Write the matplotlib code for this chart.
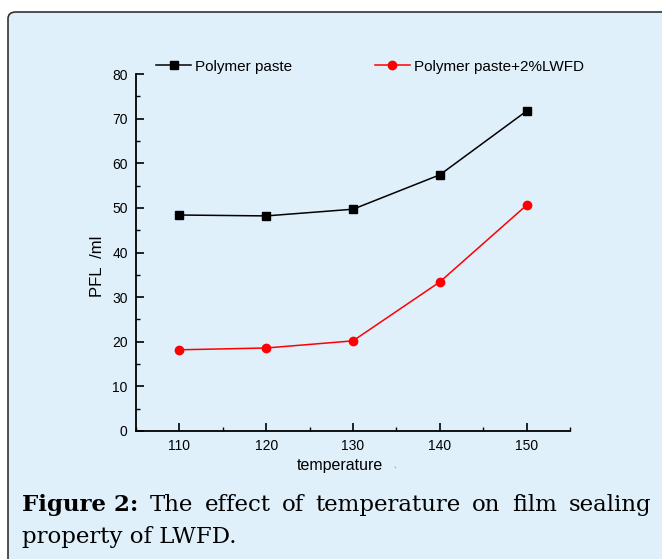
import matplotlib.pyplot as plt
from matplotlib.patches import FancyBboxPatch
from matplotlib.ticker import MultipleLocator

temperature = [110, 120, 130, 140, 150]
polymer_paste = [48.4, 48.2, 49.7, 57.4, 71.7]
polymer_lwfd = [18.2, 18.6, 20.2, 33.4, 50.6]

bg = '#dff0fb'
W, H = 662, 559

fig = plt.figure(figsize=(W / 100, H / 100), dpi=100)
fig.patch.set_facecolor('white')

# rounded frame around the figure area
frame = FancyBboxPatch((8 / W, -0.2), 1.2, 1 - 12 / H + 0.2,
                       boxstyle='round,pad=0,rounding_size=0.012',
                       transform=fig.transFigure, facecolor=bg,
                       edgecolor='#333333', linewidth=1.2, zorder=-10)
fig.patches.append(frame)

ax = fig.add_axes([136 / W, 1 - 431 / H, (570 - 136) / W, (431 - 74) / H])
ax.set_zorder(1)
ax.patch.set_alpha(0)

ax.plot(temperature, polymer_paste, color='black', marker='s', markersize=5.5,
        linewidth=1.1, label='Polymer paste', clip_on=False)
ax.plot(temperature, polymer_lwfd, color='red', marker='o', markersize=6,
        linewidth=1.1, label='Polymer paste+2%LWFD', clip_on=False)

ax.set_xlim(105, 155)
ax.set_ylim(0, 80)
ax.xaxis.set_major_locator(MultipleLocator(10))
ax.xaxis.set_minor_locator(MultipleLocator(5))
ax.yaxis.set_major_locator(MultipleLocator(10))
ax.yaxis.set_minor_locator(MultipleLocator(5))
for s in ['top', 'right']:
    ax.spines[s].set_visible(False)
for s in ['left', 'bottom']:
    ax.spines[s].set_linewidth(1.3)
ax.tick_params(which='major', direction='in', length=6, width=1.2,
               labelsize=10, pad=6)
ax.tick_params(which='minor', direction='in', length=3, width=1.0)
for lab in ax.get_xticklabels() + ax.get_yticklabels():
    lab.set_family('Liberation Sans')

ax.set_xlabel('temperature', fontsize=11.5, family='Liberation Sans')
ax.xaxis.set_label_coords(0.47, -0.075)
ax.set_ylabel('PFL  /ml', fontsize=12, family='Liberation Sans')
ax.yaxis.set_label_coords(-0.072, 0.462)
fig.text(394 / W, 1 - 466 / H, '、', fontsize=5, color='#888888',
         family=['Noto Sans CJK SC'], va='center')

ax.legend(loc='lower left', bbox_to_anchor=(0.025, 0.975), ncol=2, frameon=False,
          prop={'family': 'Liberation Sans', 'size': 11}, columnspacing=5.4,
          handlelength=2.3, handletextpad=0.25, borderaxespad=0.2)

# caption, first line justified
fs = 16.5
fam = 'DejaVu Serif'
left, right = 22, 651
y1 = 1 - 505 / H
y2 = 1 - 537 / H
fig.canvas.draw()
r = fig.canvas.get_renderer()
bold = fig.text(left / W, y1, 'Figure 2:', fontsize=fs, family=fam,
                weight='bold', va='center')
words = 'The effect of temperature on film sealing'.split()
texts = [fig.text(0, y1, w, fontsize=fs, family=fam, va='center') for w in words]
bw = bold.get_window_extent(r).width
ws = [t.get_window_extent(r).width for t in texts]
space = (right - left - bw - sum(ws)) / len(words)
x = left + bw + space
for t, w in zip(texts, ws):
    t.set_x(x / W)
    x += w + space
fig.text(left / W, y2, 'property of LWFD.', fontsize=fs, family=fam, va='center')

fig.savefig('out.png', dpi=100, facecolor='white')
